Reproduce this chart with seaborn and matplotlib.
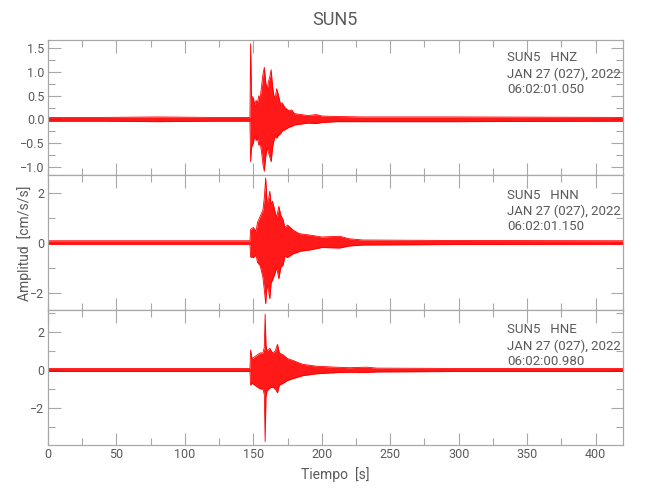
#!/usr/bin/env python3
"""
Seismogram panels for station SUN5 (HNZ / HNN / HNE), drawn as amplitude envelopes
"""
import matplotlib
matplotlib.use('Agg')
import matplotlib.pyplot as plt
from matplotlib.ticker import MultipleLocator
import seaborn as sns

# --- data (time in s, envelope in cm/s/s) ---
station = 'SUN5'
channels = ['HNZ', 'HNN', 'HNE']
dates = ['JAN 27 (027), 2022'] * 3
start_times = ['06:02:01.050', '06:02:01.150', '06:02:00.980']

hnz_t = [0, 40, 80, 120, 147.5, 148, 148.6, 150, 151, 152, 153, 154, 155, 156, 157, 158, 159, 160, 161,
         162, 163, 164, 165, 166, 167, 168, 170, 171, 173, 176, 178, 180, 185, 190, 196, 200, 210, 230, 300, 420]
hnz_up = [0.04, 0.04, 0.05, 0.04, 0.04, 1.6, 0.5, 0.45, 0.3, 0.4, 0.35, 0.5, 0.45, 0.7, 0.95, 1.1, 0.8, 0.6, 0.8,
          0.9, 1.05, 0.7, 0.5, 0.45, 0.65, 0.55, 0.3, 0.35, 0.25, 0.18, 0.2, 0.12, 0.1, 0.08, 0.1, 0.07, 0.06, 0.05, 0.05, 0.04]
hnz_lo = [-0.04, -0.04, -0.05, -0.04, -0.04, -0.9, -0.6, -0.5, -0.35, -0.45, -0.4, -0.55, -0.5, -0.7, -0.95, -1.1, -0.8, -0.6, -0.7,
          -0.8, -0.9, -0.6, -0.45, -0.35, -0.4, -0.35, -0.3, -0.25, -0.22, -0.17, -0.15, -0.12, -0.1, -0.08, -0.09, -0.07, -0.05, -0.05, -0.05, -0.04]

hnn_t = [0, 60, 120, 147.5, 148, 150, 152, 153, 155, 157, 158, 159, 160, 161, 162, 163, 164,
         166, 167, 168.6, 170, 171.7, 173, 175, 179, 182, 184, 191, 200, 213, 220, 230, 300, 420]
hnn_up = [0.07, 0.07, 0.07, 0.07, 0.53, 0.6, 0.45, 0.8, 1.05, 1.3, 1.8, 2.58, 1.6, 1.7, 2.05, 1.5, 1.65,
          1.2, 1.0, 1.45, 1.1, 0.92, 0.6, 0.7, 0.5, 0.4, 0.35, 0.3, 0.22, 0.25, 0.15, 0.1, 0.08, 0.07]
hnn_lo = [-0.07, -0.07, -0.07, -0.07, -0.58, -0.6, -0.5, -0.8, -0.93, -1.4, -1.9, -2.45, -1.7, -1.9, -2.25, -1.6, -1.5,
          -1.2, -1.0, -1.45, -1.0, -0.9, -0.55, -0.6, -0.45, -0.4, -0.35, -0.3, -0.2, -0.22, -0.14, -0.1, -0.08, -0.07]

hne_t = [0, 60, 120, 147.5, 148, 149, 151, 153, 155, 157, 158, 158.6, 159.2, 160, 162, 164,
         166, 167.6, 169, 171.7, 175, 179, 186, 196, 210, 220, 232.6, 240, 300, 420]
hne_up = [0.08, 0.08, 0.08, 0.08, 1.05, 0.6, 0.7, 0.8, 0.9, 0.9, 1.2, 2.93, 1.3, 1.0, 1.14, 0.9,
          1.0, 1.35, 0.9, 0.8, 0.6, 0.5, 0.3, 0.2, 0.15, 0.12, 0.15, 0.1, 0.08, 0.08]
hne_lo = [-0.08, -0.08, -0.08, -0.08, -0.8, -0.7, -0.8, -0.9, -1.0, -1.0, -1.3, -3.77, -1.4, -1.1, -0.95, -0.9,
          -1.0, -1.2, -0.8, -0.7, -0.55, -0.45, -0.3, -0.2, -0.14, -0.12, -0.13, -0.1, -0.08, -0.08]

traces = [(hnz_t, hnz_up, hnz_lo), (hnn_t, hnn_up, hnn_lo), (hne_t, hne_up, hne_lo)]
ylims = [(-1.18, 1.68), (-2.7, 2.7), (-3.95, 3.16)]
ymajor = [0.5, 2, 2]
yminor = [0.25, 1, 1]
label_y = [(0.867, 0.748, 0.630), (0.848, 0.733, 0.615), (0.852, 0.733, 0.615)]

sns.set_theme(style='white')
plt.rcParams['font.family'] = ['Roboto', 'DejaVu Sans']

GREY = '#a8a8a8'
TXT = '#5a5a5a'
RED = '#ff0000'

fig = plt.figure(figsize=(6.5, 5), dpi=100)
tops = [0.92, 0.65, 0.38]
h = 0.27
axes = [fig.add_axes([48 / 650, top - h, 575 / 650, h]) for top in tops]

for i, ax in enumerate(axes):
    t, up, lo = traces[i]
    ax.fill_between(t, lo, up, color=RED, linewidth=0, alpha=0.9)
    sns.lineplot(x=t, y=up, ax=ax, color=RED, linewidth=0.6)
    sns.lineplot(x=t, y=lo, ax=ax, color=RED, linewidth=0.6)
    ax.set_xlim(0, 420)
    ax.set_ylim(*ylims[i])
    ax.xaxis.set_major_locator(MultipleLocator(50))
    ax.xaxis.set_minor_locator(MultipleLocator(25))
    ax.yaxis.set_major_locator(MultipleLocator(ymajor[i]))
    ax.yaxis.set_minor_locator(MultipleLocator(yminor[i]))
    ax.tick_params(which='both', direction='in', top=True, right=True, bottom=True, left=True,
                   color=GREY, labelcolor=TXT, labelsize=9, width=0.8, pad=2.5)
    ax.tick_params(which='major', length=9)
    ax.tick_params(which='minor', length=5)
    for s in ax.spines.values():
        s.set_color(GREY)
        s.set_linewidth(0.9)
    if i < 2:
        ax.set_xticklabels([])
    ax.set_ylabel('')
    ax.set_xlabel('')
    ax.grid(False)
    lines = [f'{station}   {channels[i]}', dates[i], start_times[i]]
    for txt, yy in zip(lines, label_y[i]):
        ax.text(0.798, yy, txt, transform=ax.transAxes, ha='left', va='center',
                fontsize=9.5, color=TXT)

axes[0].yaxis.set_major_formatter(plt.FuncFormatter(lambda v, p: f'{v:.1f}'.replace('-', '\u2212')))
axes[2].set_xlabel('Tiempo  [s]', color=TXT, fontsize=10)
fig.text(0.037, 0.514, 'Amplitud  [cm/s/s]', rotation=90, ha='center', va='center',
         color=TXT, fontsize=10)
fig.text(0.516, 0.96, station, ha='center', va='center', color=TXT, fontsize=13)

fig.savefig('out.png', dpi=100)
